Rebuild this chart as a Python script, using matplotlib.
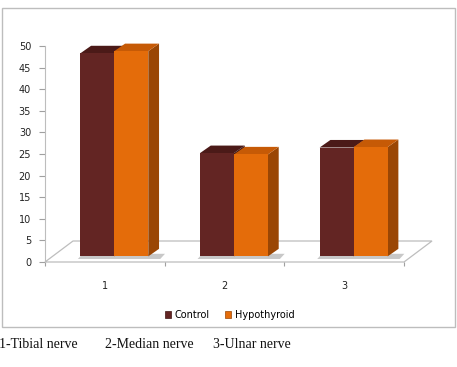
import matplotlib
matplotlib.use("Agg")
import matplotlib.pyplot as plt
from matplotlib.patches import Polygon, Patch, Rectangle

# data
categories = ["1", "2", "3"]
control = [47.0, 23.9, 25.2]
hypothyroid = [47.5, 23.6, 25.3]
series_names = ["Control", "Hypothyroid"]
caption = ["1-Tibial nerve", "2-Median nerve", "3-Ulnar nerve"]

# colours: front, top, side
colors = {
    "Control": ("#632523", "#4b1a18", "#3f1513"),
    "Hypothyroid": ("#e46c0a", "#c65a06", "#9a4604"),
}

# fake 3D geometry (data units)
floor_dx, floor_dy = 0.234, 4.86
front_dx, front_dy = 0.067, 1.3
depth_dx, depth_dy = 0.09, 1.75
bar_w = 0.284
shift = 0.079

fig = plt.figure(figsize=(4.57, 3.67), dpi=100)
fig.patch.set_facecolor("white")

# chart area border
fig.add_artist(Rectangle((2 / 457, 1 - 327 / 367), 453 / 457, 319 / 367,
                         transform=fig.transFigure, fill=False,
                         edgecolor="#bdbdbd", lw=1.0))

ax = fig.add_axes([45 / 457, 1 - 262 / 367, 359 / 457, 216 / 367])
ax.set_xlim(0, 3)
ax.set_ylim(0, 50)
ax.patch.set_alpha(0)

for s in ["top", "right", "bottom"]:
    ax.spines[s].set_visible(False)
ax.spines["left"].set_color("#bdbdbd")
ax.spines["left"].set_linewidth(0.8)

ax.set_yticks(range(0, 51, 5))
ax.tick_params(axis="y", direction="out", length=4, width=0.8, color="#a0a0a0",
               labelsize=7, labelcolor="#222222", pad=6)
ax.set_xticks([0, 1, 2, 3])
ax.set_xticklabels([])
ax.tick_params(axis="x", which="major", direction="out", length=3, width=0.8,
               color="#a0a0a0")
ax.set_xticks([0.5, 1.5, 2.5], minor=True)
ax.set_xticklabels(categories, minor=True)
ax.tick_params(axis="x", which="minor", length=0, labelsize=7,
               labelcolor="#222222", pad=14)

# floor
floor = Polygon([(0, 0), (3, 0), (3 + floor_dx, floor_dy), (floor_dx, floor_dy)],
                closed=True, facecolor="white", edgecolor="#bdbdbd", lw=0.9,
                clip_on=False, zorder=1)
ax.add_patch(floor)

for i in range(len(categories)):
    left = i + 0.5 - bar_w + shift
    # shadow under the group
    x0 = left - 0.02
    x1 = left + 2 * bar_w + depth_dx + 0.05
    ax.add_patch(Polygon([(x0, front_dy - 0.6), (x1 - 0.04, front_dy - 0.6),
                          (x1, front_dy + 0.6), (x0 + 0.04, front_dy + 0.6)],
                         closed=True, facecolor="#c8c8c8", edgecolor="none",
                         zorder=2, clip_on=False))
    for j, (name, vals) in enumerate(zip(series_names, [control, hypothyroid])):
        front, top, side = colors[name]
        xl = left + j * bar_w
        xr = xl + bar_w
        v = vals[i]
        yb = front_dy
        yt = front_dy + v
        z = 3 + j
        ax.add_patch(Polygon([(xr, yb), (xr + depth_dx, yb + depth_dy),
                              (xr + depth_dx, yt + depth_dy), (xr, yt)],
                             closed=True, facecolor=side, edgecolor="none",
                             zorder=z, clip_on=False))
        ax.add_patch(Polygon([(xl, yt), (xr, yt), (xr + depth_dx, yt + depth_dy),
                              (xl + depth_dx, yt + depth_dy)],
                             closed=True, facecolor=top, edgecolor="none",
                             zorder=z, clip_on=False))
        ax.bar(xl, v, width=bar_w, bottom=yb, align="edge", color=front,
               edgecolor="none", zorder=z + 0.1, clip_on=False)

handles = [Patch(facecolor=colors[n][0], edgecolor=colors[n][2], lw=0.5)
           for n in series_names]
fig.legend(handles, series_names, loc="center", bbox_to_anchor=(0.503, 1 - 315 / 367),
           ncol=2, frameon=False, fontsize=7, handlelength=0.6, handleheight=0.6,
           handletextpad=0.4, columnspacing=1.6)

xs = [-1, 105, 213]
for x, t in zip(xs, caption):
    fig.text(x / 457, 1 - 345 / 367, t, family="Liberation Serif", fontsize=10,
             ha="left", va="center", color="#111111")

fig.savefig("out.png", dpi=100, facecolor="white")
